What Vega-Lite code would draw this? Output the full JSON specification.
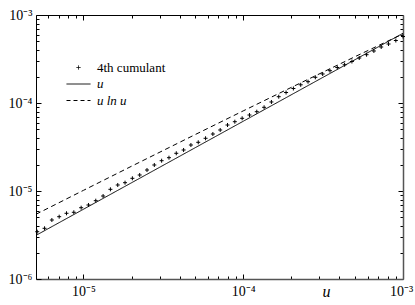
{
  "$schema": "https://vega.github.io/schema/vega-lite/v6.json",
  "width": 367,
  "height": 264,
  "autosize": {"type": "none"},
  "padding": {"left": 36, "top": 15, "right": 12, "bottom": 26},
  "background": "white",
  "config": {
    "view": {"stroke": null},
    "font": "'Liberation Serif', 'Times New Roman', serif",
    "axis": {"grid": false, "labelFont": "'Liberation Serif', 'Times New Roman', serif", "labelFontSize": 14, "labelColor": "#000", "tickColor": "#000", "titleFont": "'Liberation Serif', 'Times New Roman', serif"}
  },
  "datasets": {
    "lines": [
      {"u": 5.05e-6, "value": 3.131e-6, "series": "u"},
      {"u": 1e-5, "value": 6.2e-6, "series": "u"},
      {"u": 1e-4, "value": 6.2e-5, "series": "u"},
      {"u": 1e-3, "value": 6.2e-4, "series": "u"},
      {"u": 5.05e-6, "value": 5.438e-6, "series": "u ln u"},
      {"u": 1e-5, "value": 1.0166e-5, "series": "u ln u"},
      {"u": 2e-5, "value": 1.911e-5, "series": "u ln u"},
      {"u": 5e-5, "value": 4.372e-5, "series": "u ln u"},
      {"u": 1e-4, "value": 8.133e-5, "series": "u ln u"},
      {"u": 2e-4, "value": 1.504e-4, "series": "u ln u"},
      {"u": 5e-4, "value": 3.356e-4, "series": "u ln u"},
      {"u": 1e-3, "value": 6.1e-4, "series": "u ln u"}
    ],
    "cum": [
      {"u": 5.14e-6, "value": 3.447e-6, "series": "4th cumulant"},
      {"u": 5.712e-6, "value": 3.768e-6, "series": "4th cumulant"},
      {"u": 6.347e-6, "value": 4.682e-6, "series": "4th cumulant"},
      {"u": 7.053e-6, "value": 5.105e-6, "series": "4th cumulant"},
      {"u": 7.838e-6, "value": 5.58e-6, "series": "4th cumulant"},
      {"u": 8.71e-6, "value": 5.728e-6, "series": "4th cumulant"},
      {"u": 9.678e-6, "value": 6.459e-6, "series": "4th cumulant"},
      {"u": 1.0755e-5, "value": 6.934e-6, "series": "4th cumulant"},
      {"u": 1.1951e-5, "value": 7.759e-6, "series": "4th cumulant"},
      {"u": 1.328e-5, "value": 8.773e-6, "series": "4th cumulant"},
      {"u": 1.4757e-5, "value": 1.045e-5, "series": "4th cumulant"},
      {"u": 1.64e-5, "value": 1.17e-5, "series": "4th cumulant"},
      {"u": 1.822e-5, "value": 1.243e-5, "series": "4th cumulant"},
      {"u": 2.025e-5, "value": 1.394e-5, "series": "4th cumulant"},
      {"u": 2.25e-5, "value": 1.52e-5, "series": "4th cumulant"},
      {"u": 2.5e-5, "value": 1.732e-5, "series": "4th cumulant"},
      {"u": 2.778e-5, "value": 1.975e-5, "series": "4th cumulant"},
      {"u": 3.087e-5, "value": 2.21e-5, "series": "4th cumulant"},
      {"u": 3.431e-5, "value": 2.39e-5, "series": "4th cumulant"},
      {"u": 3.812e-5, "value": 2.682e-5, "series": "4th cumulant"},
      {"u": 4.236e-5, "value": 2.924e-5, "series": "4th cumulant"},
      {"u": 4.707e-5, "value": 3.332e-5, "series": "4th cumulant"},
      {"u": 5.231e-5, "value": 3.576e-5, "series": "4th cumulant"},
      {"u": 5.813e-5, "value": 3.971e-5, "series": "4th cumulant"},
      {"u": 6.459e-5, "value": 4.443e-5, "series": "4th cumulant"},
      {"u": 7.178e-5, "value": 4.934e-5, "series": "4th cumulant"},
      {"u": 7.976e-5, "value": 5.623e-5, "series": "4th cumulant"},
      {"u": 8.863e-5, "value": 6.131e-5, "series": "4th cumulant"},
      {"u": 9.849e-5, "value": 6.701e-5, "series": "4th cumulant"},
      {"u": 1.0944e-4, "value": 7.305e-5, "series": "4th cumulant"},
      {"u": 1.2162e-4, "value": 7.964e-5, "series": "4th cumulant"},
      {"u": 1.3514e-4, "value": 8.935e-5, "series": "4th cumulant"},
      {"u": 1.5018e-4, "value": 1.027e-4, "series": "4th cumulant"},
      {"u": 1.6688e-4, "value": 1.179e-4, "series": "4th cumulant"},
      {"u": 1.8544e-4, "value": 1.316e-4, "series": "4th cumulant"},
      {"u": 2.0606e-4, "value": 1.462e-4, "series": "4th cumulant"},
      {"u": 2.29e-4, "value": 1.61e-4, "series": "4th cumulant"},
      {"u": 2.5445e-4, "value": 1.746e-4, "series": "4th cumulant"},
      {"u": 2.8275e-4, "value": 1.959e-4, "series": "4th cumulant"},
      {"u": 3.142e-4, "value": 2.136e-4, "series": "4th cumulant"},
      {"u": 3.491e-4, "value": 2.328e-4, "series": "4th cumulant"},
      {"u": 3.88e-4, "value": 2.532e-4, "series": "4th cumulant"},
      {"u": 4.311e-4, "value": 2.717e-4, "series": "4th cumulant"},
      {"u": 4.79e-4, "value": 2.962e-4, "series": "4th cumulant"},
      {"u": 5.323e-4, "value": 3.246e-4, "series": "4th cumulant"},
      {"u": 5.916e-4, "value": 3.539e-4, "series": "4th cumulant"},
      {"u": 6.573e-4, "value": 3.899e-4, "series": "4th cumulant"},
      {"u": 7.304e-4, "value": 4.329e-4, "series": "4th cumulant"},
      {"u": 8.117e-4, "value": 4.682e-4, "series": "4th cumulant"},
      {"u": 9.02e-4, "value": 5.131e-4, "series": "4th cumulant"},
      {"u": 1e-3, "value": 5.698e-4, "series": "4th cumulant"}
    ]
  },
  "layer": [
    {
      "data": {"name": "lines"},
      "mark": {"type": "line", "strokeWidth": 1, "clip": true},
      "encoding": {
        "x": {
          "field": "u", "type": "quantitative",
          "scale": {"type": "log", "domain": [5.05e-6, 1e-3], "nice": false},
          "axis": {
            "orient": "bottom",
            "values": [6e-6, 7e-6, 8e-6, 9e-6, 1e-5, 2e-5, 3e-5, 4e-5, 5e-5, 6e-5, 7e-5, 8e-5, 9e-5, 1e-4, 2e-4, 3e-4, 4e-4, 5e-4, 6e-4, 7e-4, 8e-4, 9e-4, 1e-3],
            "labelExpr": "datum.value == 1e-3 ? '10⁻³' : datum.value == 1e-4 ? '10⁻⁴' : datum.value == 1e-5 ? '10⁻⁵' : ''",
            "tickSize": {"condition": {"test": "datum.value == 1e-3 || datum.value == 1e-4 || datum.value == 1e-5", "value": -5}, "value": -3},
            "labelOffset": {"condition": {"test": "datum.value == 1e-3", "value": -2}, "value": 0},
            "labelPadding": 10,
            "labelFlush": false,
            "labelOverlap": false,
            "domainColor": "#555",
            "domainWidth": 1.5,
            "title": "u",
            "titleFontStyle": "italic",
            "titleFontWeight": "normal",
            "titleFontSize": 16,
            "titleX": 290,
            "titleY": 17,
            "titleBaseline": "alphabetic"
          }
        },
        "y": {
          "field": "value", "type": "quantitative",
          "scale": {"type": "log", "domain": [1e-6, 1e-3], "nice": false},
          "axis": {
            "orient": "left",
            "values": [2e-6, 3e-6, 4e-6, 5e-6, 6e-6, 7e-6, 8e-6, 9e-6, 1e-5, 2e-5, 3e-5, 4e-5, 5e-5, 6e-5, 7e-5, 8e-5, 9e-5, 1e-4, 2e-4, 3e-4, 4e-4, 5e-4, 6e-4, 7e-4, 8e-4, 9e-4, 1e-6, 1e-3],
            "labelExpr": "datum.value == 1e-3 ? '10⁻³' : datum.value == 1e-4 ? '10⁻⁴' : datum.value == 1e-5 ? '10⁻⁵' : datum.value == 1e-6 ? '10⁻⁶' : ''",
            "tickSize": {"condition": {"test": "datum.value == 1e-3 || datum.value == 1e-4 || datum.value == 1e-5 || datum.value == 1e-6", "value": -5}, "value": -3},
            "labelPadding": 9,
            "labelOverlap": false,
            "labelFlush": false,
            "domainColor": "#000",
            "domainWidth": 1,
            "title": null
          }
        },
        "color": {
          "field": "series", "type": "nominal",
          "scale": {"domain": ["4th cumulant", "u", "u ln u"], "range": ["#000", "#000", "#000"]},
          "legend": {
            "orient": "none",
            "legendX": 36,
            "legendY": 46,
            "title": null,
            "padding": 0,
            "labelFont": "'Liberation Serif', 'Times New Roman', serif",
            "labelFontSize": 13,
            "labelColor": "#000",
            "labelOffset": 12,
            "symbolSize": 100,
            "rowPadding": 2.5,
            "symbolStrokeWidth": 1,
            "encode": {
              "symbols": {
                "update": {
                  "shape": {"signal": "datum.value === '4th cumulant' ? 'M-0.4,0L0.4,0M0,-0.4L0,0.4' : 'M-2.4,0L2.4,0'"},
                  "strokeDash": {"signal": "datum.value === 'u ln u' ? [4, 3] : [1, 0]"},
                  "stroke": {"value": "#000"},
                  "fill": {"value": "transparent"},
                  "strokeWidth": {"value": 1}
                }
              },
              "labels": {
                "update": {
                  "fontStyle": {"signal": "datum.value === '4th cumulant' ? 'normal' : 'italic'"}
                }
              }
            }
          }
        },
        "strokeDash": {
          "field": "series", "type": "nominal",
          "scale": {"domain": ["u", "u ln u"], "range": [[1, 0], [5, 3.5]]},
          "legend": null
        }
      }
    },
    {
      "data": {"name": "cum"},
      "mark": {"type": "point", "shape": "M-1,0L1,0M0,-1L0,1", "filled": false, "size": 16, "strokeWidth": 1, "opacity": 1},
      "encoding": {
        "x": {
          "field": "u", "type": "quantitative",
          "scale": {"type": "log", "domain": [5.05e-6, 1e-3], "nice": false},
          "axis": {
            "orient": "top",
            "values": [6e-6, 7e-6, 8e-6, 9e-6, 1e-5, 2e-5, 3e-5, 4e-5, 5e-5, 6e-5, 7e-5, 8e-5, 9e-5, 1e-4, 2e-4, 3e-4, 4e-4, 5e-4, 6e-4, 7e-4, 8e-4, 9e-4, 1e-3],
            "labels": false,
            "tickSize": {"condition": {"test": "datum.value == 1e-3 || datum.value == 1e-4 || datum.value == 1e-5", "value": -5}, "value": -3},
            "domainColor": "#000",
            "domainWidth": 1,
            "title": null
          }
        },
        "y": {
          "field": "value", "type": "quantitative",
          "scale": {"type": "log", "domain": [1e-6, 1e-3], "nice": false},
          "axis": {
            "orient": "right",
            "values": [2e-6, 3e-6, 4e-6, 5e-6, 6e-6, 7e-6, 8e-6, 9e-6, 1e-5, 2e-5, 3e-5, 4e-5, 5e-5, 6e-5, 7e-5, 8e-5, 9e-5, 1e-4, 2e-4, 3e-4, 4e-4, 5e-4, 6e-4, 7e-4, 8e-4, 9e-4],
            "labels": false,
            "tickSize": {"condition": {"test": "datum.value == 1e-3 || datum.value == 1e-4 || datum.value == 1e-5 || datum.value == 1e-6", "value": -5}, "value": -3},
            "domainColor": "#555",
            "domainWidth": 1.5,
            "title": null
          }
        },
        "color": {
          "field": "series", "type": "nominal",
          "scale": {"domain": ["4th cumulant", "u", "u ln u"], "range": ["#000", "#000", "#000"]}
        }
      }
    }
  ],
  "resolve": {"axis": {"x": "independent", "y": "independent"}}
}
